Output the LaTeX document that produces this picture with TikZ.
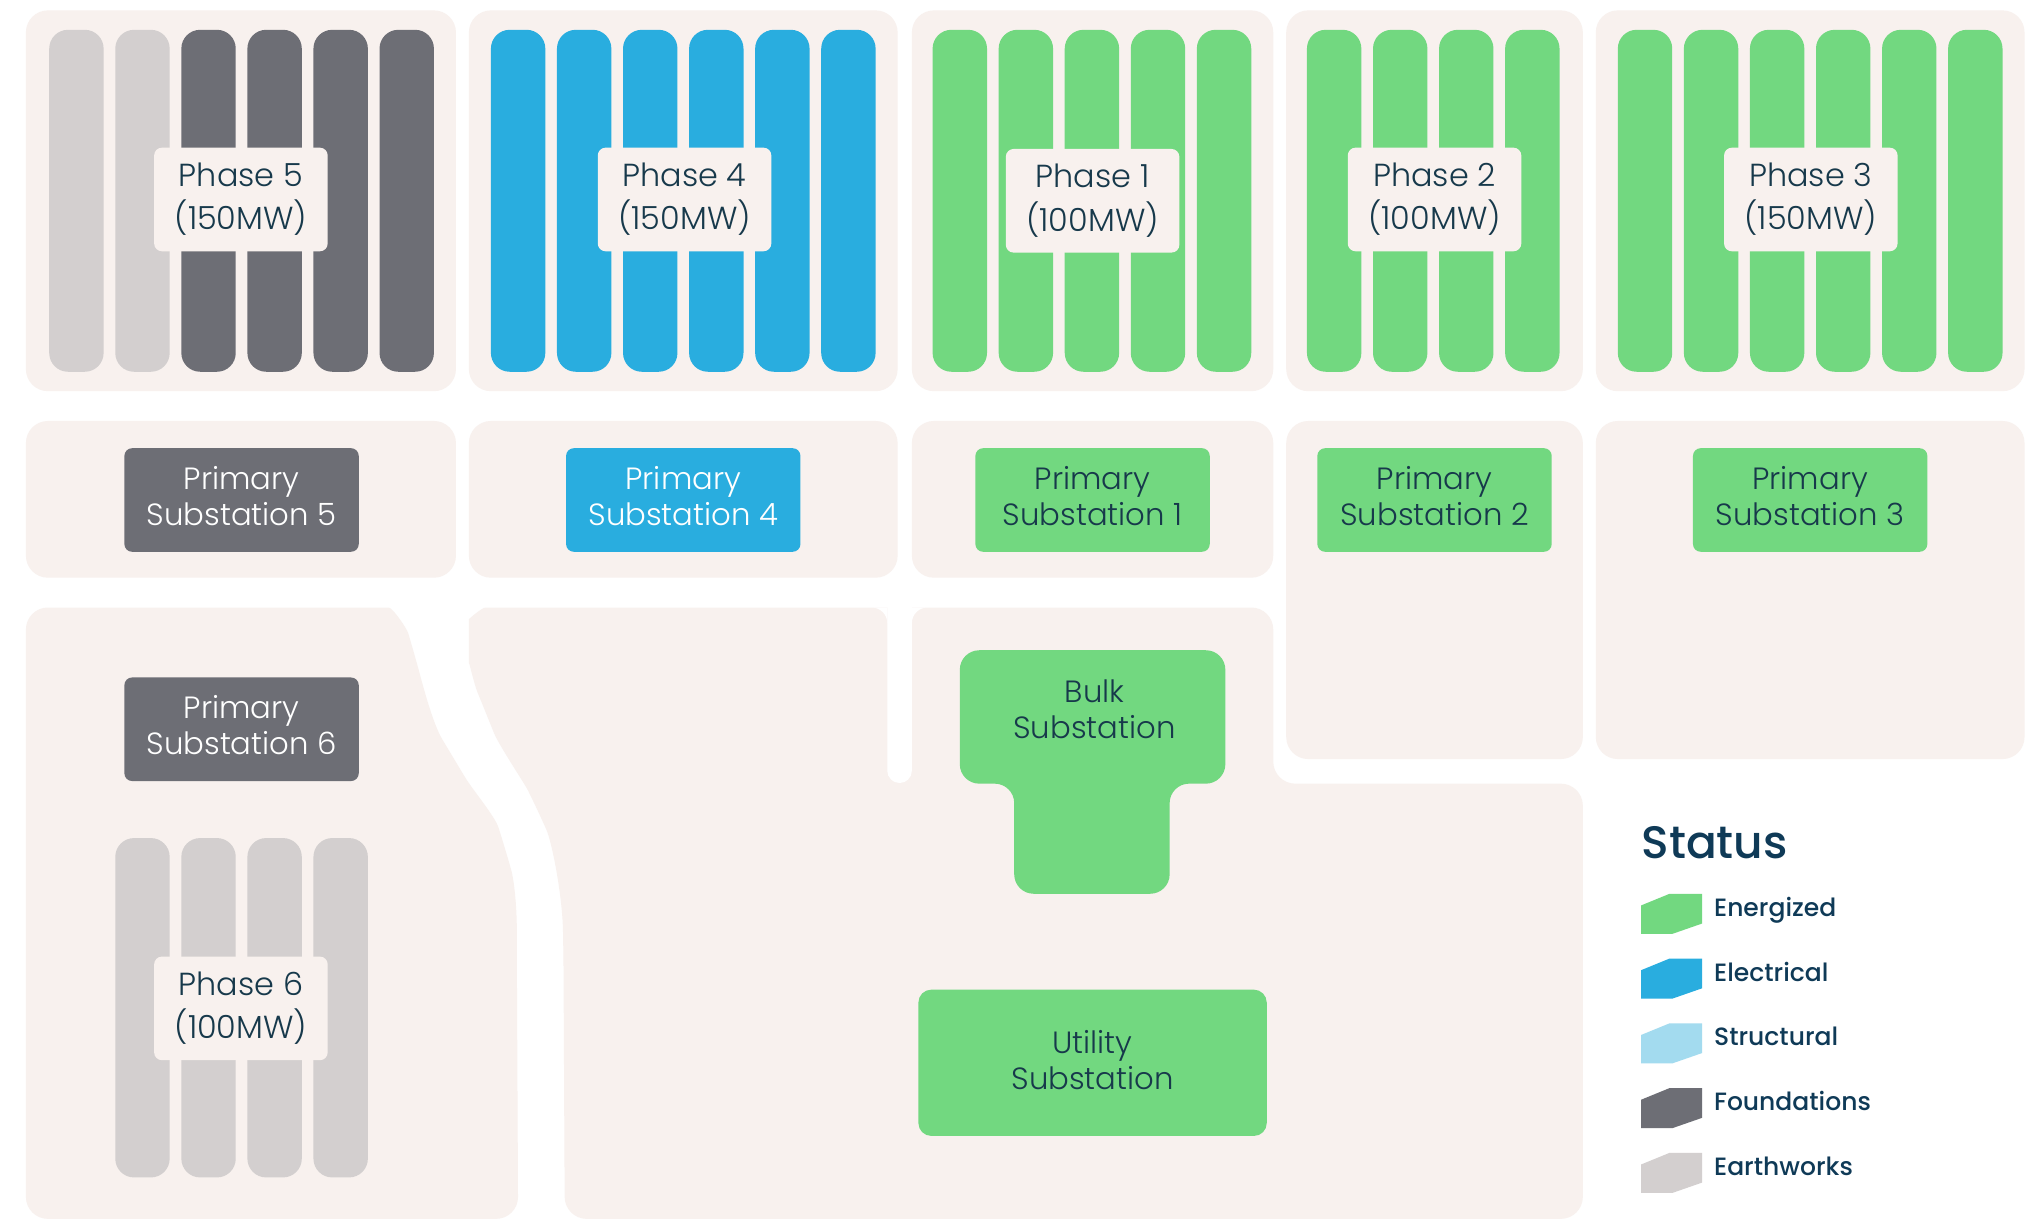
\documentclass[tikz,border=0pt]{standalone}
\usepackage{fontspec}
\IfFontExistsTF{Poppins Light}{\setmainfont{Poppins Light}}{\setmainfont{Poppins}}
\IfFontExistsTF{Poppins Medium}{\newfontfamily\legfont{Poppins Medium}}{\newfontfamily\legfont{Poppins}}
\definecolor{bg}{HTML}{F8F1EE}
\definecolor{navy}{HTML}{17394B}
\definecolor{legnavy}{HTML}{0F3A57}
\definecolor{egreen}{HTML}{72D880}
\definecolor{eblue}{HTML}{29ADDF}
\definecolor{sblue}{HTML}{A3DBEF}
\definecolor{dgrey}{HTML}{6D6E75}
\definecolor{lgrey}{HTML}{D3CFCF}
\begin{document}
\begin{tikzpicture}[x=0.02cm,y=-0.02cm,
  blk/.style={fill=bg, rounded corners=0.34cm},
  barshape/.style={rounded corners=0.29cm},
  plabel/.style={fill=bg, rounded corners=0.12cm, minimum width=2.68cm, minimum height=1.6cm,
    align=center, text=navy, inner sep=0pt, font=\fontsize{14}{19}\selectfont},
  subbox/.style={rounded corners=0.12cm, minimum width=3.62cm, minimum height=1.6cm,
    align=center, inner sep=0pt, font=\fontsize{13.5}{16}\selectfont},
  subgreen/.style={subbox, fill=egreen, text=navy},
  subgrey/.style={subbox, fill=dgrey, text=white},
  subblue/.style={subbox, fill=eblue, text=white},
  legtext/.style={anchor=base west, text=legnavy, inner sep=0pt, font=\legfont\fontsize{11}{14}\selectfont}]
\useasboundingbox (0,0) rectangle (1568,941);
\fill[white] (0,0) rectangle (1568,941);

% ---- top row blocks
\fill[blk] (20,8) rectangle (352,302);
\fill[blk] (362,8) rectangle (693,302);
\fill[blk] (704,8) rectangle (983,302);
\fill[blk] (993,8) rectangle (1222,302);
\fill[blk] (1232,8) rectangle (1563,302);

% ---- second row blocks
\fill[blk] (20,325) rectangle (352,446);
\fill[blk] (362,325) rectangle (693,446);
\fill[blk] (704,325) rectangle (983,446);
\fill[blk] (993,325) rectangle (1222,586);
\fill[blk] (1232,325) rectangle (1563,586);

% ---- left lower block (Phase 6)
\fill[blk] (20,469) -- (283,469)
  .. controls (303,469) and (314,485) .. (320,505)
  .. controls (328,535) and (335,560) .. (350,585)
  .. controls (365,610) and (382,630) .. (390,655)
  .. controls (397,680) and (399,700) .. (399,735)
  -- (400,941) -- (20,941) -- cycle;

% ---- large central block
\fill[blk] (436,941) -- (435,735)
  .. controls (434,690) and (426,650) .. (415,625)
  .. controls (405,605) and (385,575) .. (375,550)
  .. controls (366,528) and (362,510) .. (362,495)
  .. controls (362,478) and (372,469) .. (392,469)
  -- (983,469) -- (983,605) -- (1222,605) -- (1222,941) -- cycle;
% slot between the two upper parts
\fill[white, rounded corners=0.19cm] (685,455) rectangle (704,604.5);
\fill[white] (685,469) -- (685,481) arc[start angle=0, end angle=90, radius=0.24cm] -- cycle;
\fill[white] (704,469) -- (716,469) arc[start angle=90, end angle=180, radius=0.24cm] -- cycle;

% ---- bars
\foreach \x/\c in {38/lgrey,89/lgrey,140/dgrey,191/dgrey,242/dgrey,293/dgrey,
                   379/eblue,430/eblue,481/eblue,532/eblue,583/eblue,634/eblue,
                   720/egreen,771/egreen,822/egreen,873/egreen,924/egreen,
                   1009/egreen,1060/egreen,1111/egreen,1162/egreen,
                   1249/egreen,1300/egreen,1351/egreen,1402/egreen,1453/egreen,1504/egreen}
  \fill[\c, barshape] (\x,23) rectangle (\x+42,287);
\foreach \x in {89,140,191,242}
  \fill[lgrey, barshape] (\x,647) rectangle (\x+42,909);

% ---- phase labels
\node[plabel] (p5) at (186,154) {Phase 5\\(150MW)};
\node[plabel] (p4) at (528.5,154) {Phase 4\\(150MW)};
\node[plabel] (p1) at (843.5,155) {Phase 1\\(100MW)};
\node[plabel] (p2) at (1107.5,154) {Phase 2\\(100MW)};
\node[plabel] (p3) at (1398,154) {Phase 3\\(150MW)};
\node[plabel] (p6) at (186,778.5) {Phase 6\\(100MW)};

% ---- primary substations (boxes span y 346..426; text set a little high)
\node[subgrey]  (s5) at (186.5,386) {};
\node[subblue]  (s4) at (527.5,386) {};
\node[subgreen] (s1) at (843.5,386) {};
\node[subgreen] (s2) at (1107.5,386) {};
\node[subgreen] (s3) at (1397.5,386) {};
\node[subgrey]  (s6) at (186.5,563) {};
\foreach \n/\t/\c in {s5/5/white, s4/4/white, s1/1/navy, s2/2/navy, s3/3/navy, s6/6/white}
  \node[align=center, inner sep=0pt, text=\c, font=\fontsize{13.5}{16}\selectfont]
    (\n t) at ([yshift=0.06cm]\n.center) {Primary\\Substation \t};

% ---- bulk substation (T shape)
\fill[egreen, rounded corners=0.3cm] (741,502) -- (946,502) -- (946,605) -- (903,605)
  -- (903,690) -- (783,690) -- (783,605) -- (741,605) -- cycle;
\node[align=center, text=navy, inner sep=0pt, font=\fontsize{13.5}{16}\selectfont]
  (bulk) at (845,547.5) {Bulk\\Substation};

% ---- utility substation
\node[fill=egreen, rounded corners=0.2cm, minimum width=5.38cm, minimum height=2.26cm]
  (util) at (843.5,820.5) {};
\node[align=center, text=navy, inner sep=0pt, font=\fontsize{13.5}{16}\selectfont]
  (utilt) at ([yshift=0.04cm]util.center) {Utility\\Substation};

% ---- legend
\node[anchor=base west, text=legnavy, inner sep=0pt, font=\legfont\fontsize{20}{24}\selectfont]
  (status) at (1267,662.5) {Status};
\foreach \y/\c/\t/\n in {705/egreen/Energized/lE, 755/eblue/Electrical/lL,
                         805/sblue/Structural/lS, 855/dgrey/Foundations/lF,
                         905/lgrey/Earthworks/lW} {
  \fill[\c] (1267,\y-6) -- (1289,\y-15) -- (1314,\y-15) -- (1314,\y+8)
    -- (1291,\y+16) -- (1267,\y+16) -- cycle;
  \node[legtext] (\n) at (1323,\y+2.5) {\t};
}
\end{tikzpicture}
\end{document}
